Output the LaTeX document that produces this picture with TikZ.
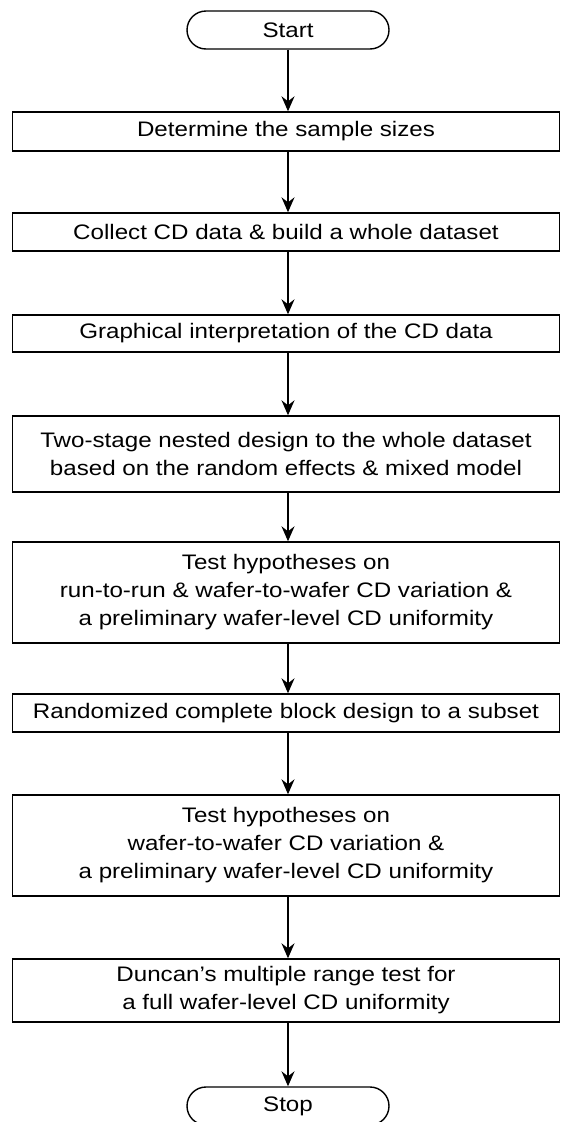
\documentclass[tikz,border=0pt]{standalone}
\usepackage{fontspec}
\setmainfont[FakeStretch=1.15]{Liberation Sans}
\usetikzlibrary{arrows.meta,shapes.misc}
\tikzset{
	stepbox/.style={draw, line width=1.4pt, minimum width=547pt, inner sep=0pt, align=center, font=\fontsize{21}{28}\selectfont},
	termbox/.style={draw, rounded rectangle, line width=1.4pt, minimum width=202pt, minimum height=38pt, inner sep=0pt, font=\fontsize{21}{28}\selectfont},
	flow/.style={-{Stealth[length=15pt,width=13pt,inset=5pt]}, line width=1.5pt}
}
\begin{document}
\begin{tikzpicture}[x=1pt,y=1pt]
					\useasboundingbox (0,0) rectangle (561,-1122);
%					% Terminals and steps
					\node[termbox] (start) at (288,-30) {Start};
					\node[stepbox, minimum height=39pt] (sizes) at (286,-131.5) {Determine the sample sizes};
					\node[stepbox, minimum height=38pt] (collect) at (286,-232) {Collect CD data \& build a whole dataset};
					\node[stepbox, minimum height=37pt] (graph) at (286,-333.5) {Graphical interpretation of the CD data};
					\node[stepbox, minimum height=76pt] (nested) at (286,-454) {Two-stage nested design to the whole dataset\\based on the random effects \& mixed model};
					\node[stepbox, minimum height=101pt] (hypoA) at (286,-592.5) {Test hypotheses on\\run-to-run \& wafer-to-wafer CD variation \&\\a preliminary wafer-level CD uniformity};
					\node[stepbox, minimum height=38pt] (block) at (286,-713) {Randomized complete block design to a subset};
					\node[stepbox, minimum height=101pt] (hypoB) at (286,-845.5) {Test hypotheses on\\wafer-to-wafer CD variation \&\\a preliminary wafer-level CD uniformity};
					\node[stepbox, minimum height=63pt] (duncan) at (286,-990.5) {Duncan’s multiple range test for\\a full wafer-level CD uniformity};
					\node[termbox] (stop) at (288,-1106) {Stop};
%					% Connectors
					\draw[flow] (start.south) -- (start |- sizes.north);
					\draw[flow] (sizes.south -| start) -- (start |- collect.north);
					\draw[flow] (collect.south -| start) -- (start |- graph.north);
					\draw[flow] (graph.south -| start) -- (start |- nested.north);
					\draw[flow] (nested.south -| start) -- (start |- hypoA.north);
					\draw[flow] (hypoA.south -| start) -- (start |- block.north);
					\draw[flow] (block.south -| start) -- (start |- hypoB.north);
					\draw[flow] (hypoB.south -| start) -- (start |- duncan.north);
					\draw[flow] (duncan.south -| start) -- (stop.north);
\end{tikzpicture}
\end{document}
